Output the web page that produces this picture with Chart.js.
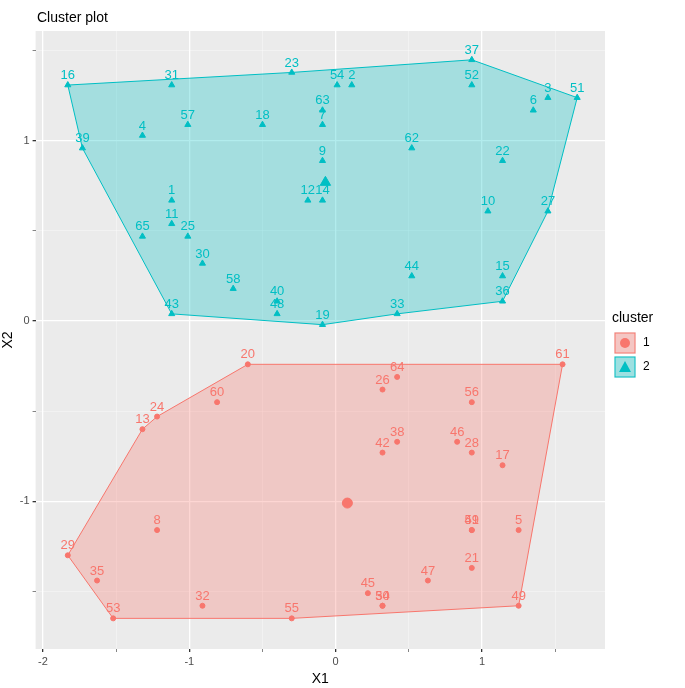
<!DOCTYPE html>
<html>
<head>
<meta charset="utf-8">
<script src="https://cdn.jsdelivr.net/npm/chart.js@4/dist/chart.umd.min.js"></script>
<style>
  body { margin: 0; background: #fff; }
  #wrap { position: relative; width: 685px; height: 688px; }
</style>
</head>
<body>
<div id="wrap"><canvas id="myChart" width="685" height="688"></canvas></div>
<script>
// ------- Dados -------
const ids1 = [20, 60, 24, 13, 8, 29, 35, 32, 53, 55, 61, 64, 26, 56, 38, 46, 42, 28, 17, 41, 59, 5, 21, 47, 45, 34, 50, 49];
const x1 = [-0.60, -0.81, -1.22, -1.32, -1.22, -1.83, -1.63, -0.91, -1.52, -0.30, 1.55, 0.42, 0.32, 0.93, 0.42, 0.83, 0.32, 0.93, 1.14, 0.93, 0.93, 1.25, 0.93, 0.63, 0.22, 0.32, 0.32, 1.25];
const y1 = [-0.24, -0.45, -0.53, -0.60, -1.16, -1.30, -1.44, -1.58, -1.65, -1.65, -0.24, -0.31, -0.38, -0.45, -0.67, -0.67, -0.73, -0.73, -0.80, -1.16, -1.16, -1.16, -1.37, -1.44, -1.51, -1.58, -1.58, -1.58];
const hull1 = [20, 61, 49, 55, 53, 29, 13, 24];
const centre1 = [0.08, -1.01];

const ids2 = [16, 31, 23, 57, 18, 63, 7, 4, 39, 9, 12, 14, 1, 11, 65, 25, 30, 58, 40, 48, 43, 19, 54, 2, 37, 52, 3, 51, 6, 62, 22, 10, 27, 44, 15, 36, 33];
const x2 = [-1.83, -1.12, -0.30, -1.01, -0.50, -0.09, -0.09, -1.32, -1.73, -0.09, -0.19, -0.09, -1.12, -1.12, -1.32, -1.01, -0.91, -0.70, -0.40, -0.40, -1.12, -0.09, 0.01, 0.11, 0.93, 0.93, 1.45, 1.65, 1.35, 0.52, 1.14, 1.04, 1.45, 0.52, 1.14, 1.14, 0.42];
const y2 = [1.31, 1.31, 1.38, 1.09, 1.09, 1.17, 1.09, 1.03, 0.96, 0.89, 0.67, 0.67, 0.67, 0.54, 0.47, 0.47, 0.32, 0.18, 0.11, 0.04, 0.04, -0.02, 1.31, 1.31, 1.45, 1.31, 1.24, 1.24, 1.17, 0.96, 0.89, 0.61, 0.61, 0.25, 0.25, 0.11, 0.04];
const hull2 = [16, 23, 37, 51, 27, 36, 33, 19, 43, 39];
const centre2 = [-0.07, 0.77];

const xTicks = [-2, -1, 0, 1];
const yTicks = [-1, 0, 1];
const RED = '#F8766D';
const TEAL = '#00BFC4';

function pts(ids, xs, ys) {
  return ids.map((id, i) => ({ x: xs[i], y: ys[i], id }));
}
const data1 = pts(ids1, x1, y1);
const data2 = pts(ids2, x2, y2);

// ------- Plugins -------
const fundo = {
  id: 'fundo',
  beforeDraw(c) {
    const a = c.chartArea, ctx = c.ctx;
    ctx.save();
    ctx.fillStyle = '#EBEBEB';
    ctx.fillRect(a.left, a.top, a.right - a.left, a.bottom - a.top);
    ctx.restore();
  }
};

const cascos = {
  id: 'cascos',
  beforeDatasetsDraw(c) {
    const ctx = c.ctx, xs = c.scales.x, ys = c.scales.y;
    [[hull1, data1, RED, 'rgba(248,118,109,0.3)'], [hull2, data2, TEAL, 'rgba(0,191,196,0.3)']].forEach(([h, d, cor, fill]) => {
      ctx.save();
      ctx.beginPath();
      h.forEach((id, i) => {
        const p = d.find(q => q.id === id);
        const px = xs.getPixelForValue(p.x), py = ys.getPixelForValue(p.y);
        if (i === 0) ctx.moveTo(px, py); else ctx.lineTo(px, py);
      });
      ctx.closePath();
      ctx.fillStyle = fill;
      ctx.fill();
      ctx.strokeStyle = cor;
      ctx.lineWidth = 1;
      ctx.stroke();
      ctx.restore();
    });
  },
  afterDatasetsDraw(c) {
    const ctx = c.ctx, xs = c.scales.x, ys = c.scales.y;
    ctx.save();
    ctx.font = '13px Arial, "Liberation Sans", sans-serif';
    ctx.textAlign = 'center';
    ctx.textBaseline = 'bottom';
    [[data1, RED], [data2, TEAL]].forEach(([d, cor]) => {
      ctx.fillStyle = cor;
      d.forEach(p => {
        ctx.fillText(String(p.id), xs.getPixelForValue(p.x), ys.getPixelForValue(p.y) - 3);
      });
    });
    // título e legenda
    ctx.fillStyle = '#000';
    ctx.textAlign = 'left';
    ctx.textBaseline = 'middle';
    ctx.font = '14px Arial, "Liberation Sans", sans-serif';
    ctx.fillText('Cluster plot', 37, 18);
    ctx.fillText('cluster', 612, 318);
    ctx.font = '12px Arial, "Liberation Sans", sans-serif';
    [[RED, '1', 343, 'circle'], [TEAL, '2', 367, 'triangle']].forEach(([cor, txt, y, forma]) => {
      ctx.fillStyle = '#F2F2F2';
      ctx.fillRect(614, y - 11, 22, 22);
      ctx.fillStyle = cor === RED ? 'rgba(248,118,109,0.35)' : 'rgba(0,191,196,0.35)';
      ctx.strokeStyle = cor;
      ctx.fillRect(615, y - 10, 20, 20);
      ctx.strokeRect(615, y - 10, 20, 20);
      ctx.fillStyle = cor;
      ctx.beginPath();
      if (forma === 'circle') ctx.arc(625, y, 5, 0, Math.PI * 2);
      else { ctx.moveTo(625, y - 6); ctx.lineTo(631, y + 5); ctx.lineTo(619, y + 5); ctx.closePath(); }
      ctx.fill();
      ctx.fillStyle = '#000';
      ctx.fillText(txt, 643, y);
    });
    ctx.restore();
  }
};

// ------- Gráfico -------
const gridCor = ctx => {
  const v = ctx.tick && ctx.tick.value;
  return Number.isInteger(v) ? 'rgba(255,255,255,1)' : 'rgba(255,255,255,0.6)';
};
const gridLarg = ctx => (ctx.tick && Number.isInteger(ctx.tick.value)) ? 1.3 : 0.6;

new Chart(document.getElementById('myChart').getContext('2d'), {
  type: 'scatter',
  data: {
    datasets: [
      { data: data1, pointStyle: 'circle', pointRadius: 2.5, backgroundColor: RED, borderColor: RED },
      { data: data2, pointStyle: 'triangle', pointRadius: 3.5, backgroundColor: TEAL, borderColor: TEAL },
      { data: [{ x: centre1[0], y: centre1[1] }], pointStyle: 'circle', pointRadius: 5, backgroundColor: RED, borderColor: RED },
      { data: [{ x: centre2[0], y: centre2[1] }], pointStyle: 'triangle', pointRadius: 6, backgroundColor: TEAL, borderColor: TEAL }
    ]
  },
  options: {
    responsive: false,
    animation: false,
    layout: { padding: { top: 31, right: 80, left: 0, bottom: 0 } },
    plugins: { legend: { display: false }, tooltip: { enabled: false } },
    scales: {
      x: {
        type: 'linear', min: -2.05, max: 1.84,
        afterBuildTicks: s => { s.ticks = [-2, -1.5, -1, -0.5, 0, 0.5, 1, 1.5].map(v => ({ value: v })); },
        ticks: { color: '#4D4D4D', font: { size: 11 }, callback: v => xTicks.includes(v) ? v : '' },
        grid: { color: gridCor, lineWidth: gridLarg, tickColor: '#333', tickLength: 3 },
        border: { display: false },
        title: { display: true, text: 'X1', color: '#000', font: { size: 14 }, padding: 0 }
      },
      y: {
        type: 'linear', min: -1.82, max: 1.61,
        afterBuildTicks: s => { s.ticks = [-1.5, -1, -0.5, 0, 0.5, 1, 1.5].map(v => ({ value: v })); },
        ticks: { color: '#4D4D4D', font: { size: 11 }, callback: v => yTicks.includes(v) ? v : '' },
        grid: { color: gridCor, lineWidth: gridLarg, tickColor: '#333', tickLength: 3 },
        border: { display: false },
        title: { display: true, text: 'X2', color: '#000', font: { size: 14 }, padding: 0 }
      }
    }
  },
  plugins: [fundo, cascos]
});
</script>
</body>
</html>
